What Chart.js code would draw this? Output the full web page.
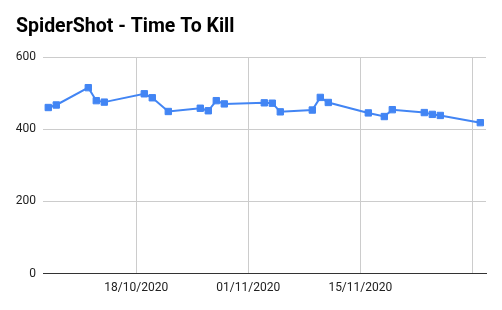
<!DOCTYPE html>
<html>
<head>
<meta charset="utf-8">
<script src="https://cdn.jsdelivr.net/npm/chart.js@4/dist/chart.umd.min.js"></script>
<style>
  html, body { margin: 0; padding: 0; background: #fff; }
  #wrap { width: 502px; height: 310px; position: relative; }
</style>
</head>
<body>
<div id="wrap"><canvas id="c" width="502" height="310"></canvas></div>
<script>
const title = 'SpiderShot - Time To Kill';
const dates = ['07/10/2020','08/10/2020','12/10/2020','13/10/2020','14/10/2020','19/10/2020','20/10/2020','22/10/2020','26/10/2020','27/10/2020','28/10/2020','29/10/2020','03/11/2020','04/11/2020','05/11/2020','09/11/2020','10/11/2020','11/11/2020','16/11/2020','18/11/2020','19/11/2020','23/11/2020','24/11/2020','25/11/2020','30/11/2020'];
const timeToKill = [460,467,515,479,475,498,487,449,458,451,479,470,473,472,448,453,488,474,445,435,454,446,441,438,418];
const xTickDates = ['18/10/2020','01/11/2020','15/11/2020','29/11/2020'];
const xTickShown = [true, true, true, false];
const yTicks = [0, 200, 400, 600];

function dayNum(s) {
  const [d, m, y] = s.split('/').map(Number);
  return Date.UTC(y, m - 1, d) / 86400000;
}
function fmt(v) {
  const dt = new Date(Math.round(v) * 86400000);
  const dd = String(dt.getUTCDate()).padStart(2, '0');
  const mm = String(dt.getUTCMonth() + 1).padStart(2, '0');
  return dd + '/' + mm + '/' + dt.getUTCFullYear();
}

const points = dates.map((d, i) => ({ x: dayNum(d), y: timeToKill[i] }));
const tickVals = xTickDates.map(dayNum);
const ref = dayNum('18/10/2020');

const font = { family: 'Roboto', size: 12 };

new Chart(document.getElementById('c'), {
  type: 'line',
  data: {
    datasets: [{
      data: points,
      borderColor: '#4285F4',
      backgroundColor: '#4285F4',
      borderWidth: 2,
      pointStyle: 'rect',
      pointRadius: 4.5,
      pointBorderWidth: 1,
      pointBackgroundColor: '#4285F4',
      pointBorderColor: '#4285F4',
      tension: 0,
      fill: false
    }]
  },
  options: {
    responsive: false,
    animation: false,
    devicePixelRatio: 1,
    layout: { padding: { left: 16, right: 16, top: 0, bottom: 0 } },
    plugins: {
      legend: { display: false },
      tooltip: { enabled: false },
      title: {
        display: true,
        text: title,
        align: 'start',
        color: '#000',
        font: { family: 'Roboto', size: 19.5, weight: 'bold', lineHeight: 1.2 },
        padding: { top: 15, bottom: 18.6 }
      }
    },
    scales: {
      x: {
        type: 'linear',
        min: ref - 11.66,
        max: ref + 43.71,
        afterBuildTicks: (s) => { s.ticks = tickVals.map(v => ({ value: v })); },
        afterFit: (s) => { s.height = 36.5; },
        ticks: {
          autoSkip: false,
          maxRotation: 0,
          padding: 7.5,
          color: '#222',
          font: font,
          callback: (v) => { const i = tickVals.indexOf(v); return (i >= 0 && xTickShown[i]) ? fmt(v) : ''; }
        },
        grid: { color: '#cccccc', drawTicks: false, lineWidth: 1 },
        border: { display: true, color: '#333333', width: 1 }
      },
      y: {
        min: 0,
        max: 600,
        afterBuildTicks: (s) => { s.ticks = yTicks.map(v => ({ value: v })); },
        afterFit: (s) => { s.width = 27; },
        ticks: { padding: 7, color: '#222', font: font },
        grid: { color: '#cccccc', drawTicks: false, lineWidth: 1 },
        border: { display: false }
      }
    }
  }
});
</script>
</body>
</html>
